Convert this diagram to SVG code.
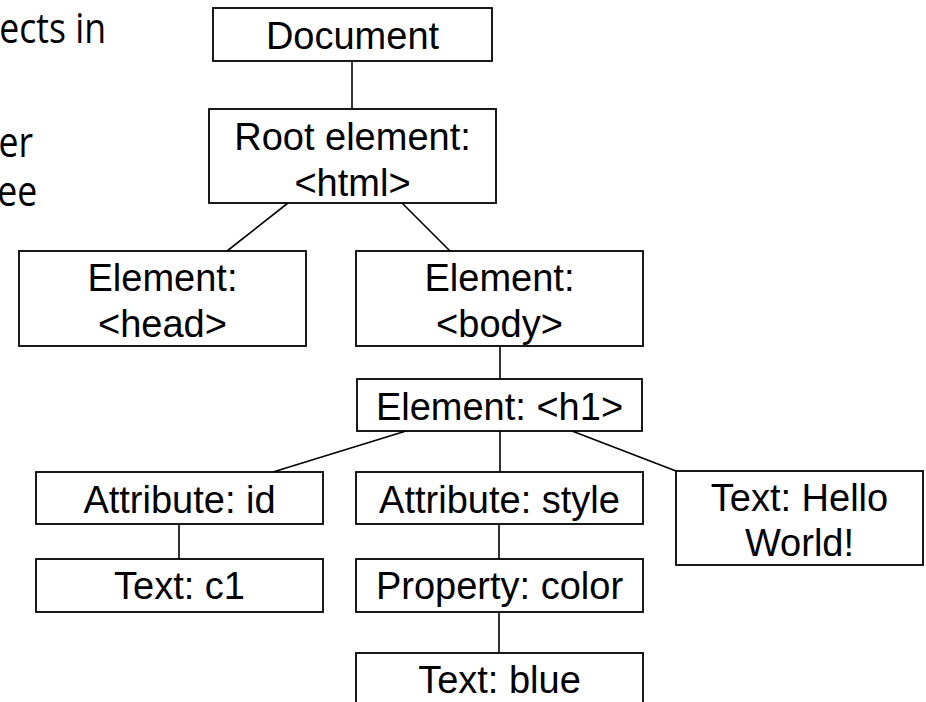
<svg xmlns="http://www.w3.org/2000/svg" width="926" height="702" viewBox="0 0 926 702">
<style>
  .box{fill:#fff;stroke:#000;stroke-width:1.8}
  .t{font-family:"Liberation Sans",Arial,sans-serif;font-size:38px;fill:#000;text-anchor:middle}
  .side{font-family:"Open Sans","Noto Sans",sans-serif;font-size:42px;fill:#000;text-anchor:end}
  .c{stroke:#000;stroke-width:1.6;fill:none}
</style>
<rect width="926" height="702" fill="#fff"/>
<g id="side-text" transform="scale(0.848,1)">
  <text class="side" x="125" y="43">ects in</text>
  <text class="side" x="39" y="157">er</text>
  <text class="side" x="44" y="206">ee</text>
</g>
<g id="connectors">
  <line class="c" x1="352" y1="61" x2="352" y2="109"/>
  <line class="c" x1="288" y1="203" x2="227" y2="251"/>
  <line class="c" x1="402" y1="203" x2="451" y2="252"/>
  <line class="c" x1="500" y1="346" x2="500" y2="379"/>
  <line class="c" x1="406" y1="431" x2="273" y2="472"/>
  <line class="c" x1="500" y1="431" x2="500" y2="472"/>
  <line class="c" x1="572" y1="431" x2="676" y2="471"/>
  <line class="c" x1="179" y1="524" x2="179" y2="559"/>
  <line class="c" x1="499" y1="524" x2="499" y2="559"/>
  <line class="c" x1="499" y1="612" x2="499" y2="653"/>
</g>
<g id="document">
  <rect class="box" x="213" y="8" width="279" height="53"/>
  <text class="t" x="352.5" y="49">Document</text>
</g>
<g id="root">
  <rect class="box" x="209" y="109" width="287" height="94"/>
  <text class="t" x="352.5" y="150">Root element:</text>
  <text class="t" x="352.5" y="196">&lt;html&gt;</text>
</g>
<g id="head">
  <rect class="box" x="19" y="251" width="287" height="95"/>
  <text class="t" x="162.5" y="291">Element:</text>
  <text class="t" x="162.5" y="337">&lt;head&gt;</text>
</g>
<g id="body">
  <rect class="box" x="356" y="251" width="287" height="95"/>
  <text class="t" x="499.5" y="291">Element:</text>
  <text class="t" x="499.5" y="337">&lt;body&gt;</text>
</g>
<g id="h1">
  <rect class="box" x="357" y="379" width="285" height="52"/>
  <text class="t" x="499.5" y="420">Element: &lt;h1&gt;</text>
</g>
<g id="attr-id">
  <rect class="box" x="36" y="472" width="287" height="52"/>
  <text class="t" x="179.5" y="513">Attribute: id</text>
</g>
<g id="attr-style">
  <rect class="box" x="356" y="472" width="287" height="52"/>
  <text class="t" x="499.5" y="513">Attribute: style</text>
</g>
<g id="text-hello">
  <rect class="box" x="676" y="471" width="247" height="94"/>
  <text class="t" x="799.5" y="511">Text: Hello</text>
  <text class="t" x="799.5" y="556">World!</text>
</g>
<g id="text-c1">
  <rect class="box" x="36" y="559" width="287" height="53"/>
  <text class="t" x="179.5" y="599">Text: c1</text>
</g>
<g id="property">
  <rect class="box" x="356" y="559" width="287" height="53"/>
  <text class="t" x="499.5" y="599">Property: color</text>
</g>
<g id="text-blue">
  <rect class="box" x="356" y="653" width="287" height="60"/>
  <text class="t" x="499.5" y="693">Text: blue</text>
</g>
</svg>
